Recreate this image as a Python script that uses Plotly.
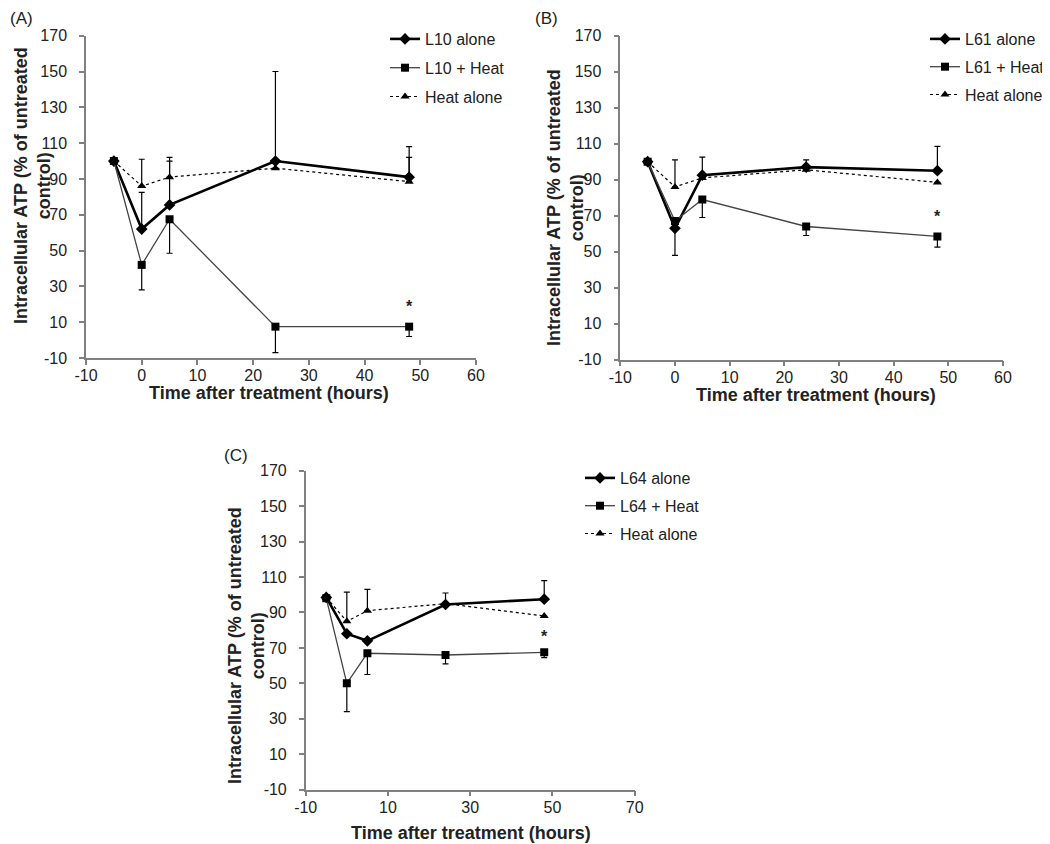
import plotly.graph_objects as go

# ---------------- data ----------------
time_h = [-5, 0, 5, 24, 48]

# Panel A
a_l10_alone = [100, 62, 75.5, 100, 91]
a_l10_alone_up = [0, 20.5, 24.5, 50, 17]
a_l10_heat = [100, 42, 67.5, 7.5, 7.5]
a_l10_heat_dn = [0, 14, 19, 14.5, 5.5]
a_heat = [100, 86, 91, 96, 88.5]
a_heat_up = [0, 15, 11, 0, 13.5]

# Panel B
b_l61_alone = [100, 63, 92.5, 97, 95]
b_l61_alone_up = [0, 0, 0, 4, 13.5]
b_l61_alone_dn = [0, 15, 0, 0, 0]
b_l61_heat = [100, 67, 79, 64, 58.5]
b_l61_heat_dn = [0, 0, 10, 5, 6]
b_heat = [100, 86, 91, 95.5, 88.5]
b_heat_up = [0, 15, 11.5, 0, 0]

# Panel C
c_l64_alone = [98.5, 78, 74, 94.5, 97.5]
c_l64_alone_up = [0, 0, 0, 6.5, 10.5]
c_l64_heat = [98, 50, 67, 66, 67.5]
c_l64_heat_dn = [0, 16, 12, 5, 3]
c_heat = [98.5, 85, 91, 95, 88]
c_heat_up = [0, 16.5, 12, 0, 0]

star_y = {"A": 18.5, "B": 69.5, "C": 76.5}

# tick labels
y_ticks = [-10, 10, 30, 50, 70, 90, 110, 130, 150, 170]
y_ticktext = ["-10", "10", "30", "50", "70", "90", "110", "130", "150", "170"]
x_ticks_ab = [-10, 0, 10, 20, 30, 40, 50, 60]
x_ticktext_ab = ["-10", "0", "10", "20", "30", "40", "50", "60"]
x_ticks_c = [-10, 10, 30, 50, 70]
x_ticktext_c = ["-10", "10", "30", "50", "70"]

W, H = 1050, 844
FONT = "Liberation Sans, Arial, sans-serif"
TXT = "#222222"
AXC = "#808080"


def px(x):
    return x / W


def py(y):
    return 1 - y / H


fig = go.Figure()


def add_panel(xa, ya, legend, names, alone, alone_up, alone_dn, heatc, heatc_dn, heat, heat_up):
    zeros = [0] * len(time_h)
    common = dict(x=time_h, xaxis=xa, yaxis=ya, legend=legend, mode="lines+markers")
    fig.add_trace(go.Scatter(
        y=alone, name=names[0], legendgroup=legend + "1",
        line=dict(color="black", width=2.6),
        marker=dict(symbol="diamond", size=9, color="black"),
        error_y=dict(type="data", symmetric=False, array=alone_up, arrayminus=alone_dn,
                     color="black", thickness=1.2, width=3),
        **common))
    fig.add_trace(go.Scatter(
        y=heatc, name=names[1], legendgroup=legend + "2",
        line=dict(color="#444444", width=1.3),
        marker=dict(symbol="square", size=8, color="black"),
        error_y=dict(type="data", symmetric=False, array=zeros, arrayminus=heatc_dn,
                     color="black", thickness=1.2, width=3),
        **common))
    fig.add_trace(go.Scatter(
        y=heat, name=names[2], legendgroup=legend + "3",
        line=dict(color="black", width=1.2, dash="dot"),
        marker=dict(symbol="triangle-up", size=8, color="black"),
        error_y=dict(type="data", symmetric=False, array=heat_up, arrayminus=zeros,
                     color="black", thickness=1.2, width=3),
        **common))


add_panel("x", "y", "legend", ["L10 alone", "L10 + Heat", "Heat alone"],
          a_l10_alone, a_l10_alone_up, [0] * 5, a_l10_heat, a_l10_heat_dn, a_heat, a_heat_up)
add_panel("x2", "y2", "legend2", ["L61 alone", "L61 + Heat", "Heat alone"],
          b_l61_alone, b_l61_alone_up, b_l61_alone_dn, b_l61_heat, b_l61_heat_dn, b_heat, b_heat_up)
add_panel("x3", "y3", "legend3", ["L64 alone", "L64 + Heat", "Heat alone"],
          c_l64_alone, c_l64_alone_up, [0] * 5, c_l64_heat, c_l64_heat_dn, c_heat, c_heat_up)

axis_common = dict(showline=True, linecolor=AXC, linewidth=1.5, showgrid=False, zeroline=False,
                   ticks="outside", ticklen=5, tickcolor=AXC, tickwidth=1.5, automargin=False,
                   tickfont=dict(family=FONT, size=16, color=TXT))
xax = dict(ticklabelstandoff=-3, **axis_common)
yax = dict(ticklabelstandoff=9, tickmode="array", tickvals=y_ticks, ticktext=y_ticktext,
           range=[-10, 170], **axis_common)

# domains from pixel positions
dom = {
    "A": ([px(78), px(468)], [py(350), py(27.7)]),
    "B": ([px(612.3), px(995)], [py(351.7), py(27.7)]),
    "C": ([px(297.7), px(626.7)], [py(781.7), py(462.7)]),
}

fig.update_layout(
    xaxis=dict(domain=dom["A"][0], anchor="y", range=[-10, 60], tickmode="array",
               tickvals=x_ticks_ab, ticktext=x_ticktext_ab, **xax),
    yaxis=dict(domain=dom["A"][1], anchor="x", **yax),
    xaxis2=dict(domain=dom["B"][0], anchor="y2", range=[-10, 60], tickmode="array",
                tickvals=x_ticks_ab, ticktext=x_ticktext_ab, **xax),
    yaxis2=dict(domain=dom["B"][1], anchor="x2", **yax),
    xaxis3=dict(domain=dom["C"][0], anchor="y3", range=[-10, 70], tickmode="array",
                tickvals=x_ticks_c, ticktext=x_ticktext_c, **xax),
    yaxis3=dict(domain=dom["C"][1], anchor="x3", **yax),
)

leg_common = dict(font=dict(family=FONT, size=16, color=TXT), bgcolor="rgba(0,0,0,0)",
                  xanchor="left", yanchor="top", traceorder="grouped")
fig.update_layout(
    legend=dict(x=px(377), y=py(14), tracegroupgap=5, **leg_common),
    legend2=dict(x=px(917), y=py(14), tracegroupgap=4, **leg_common),
    legend3=dict(x=px(572), y=py(453), tracegroupgap=4, **leg_common),
)

ann = []
ytitle = "<b>Intracellular ATP (% of untreated<br>control)</b>"
xtitle = "<b>Time after treatment (hours)</b>"
for (xc, yc) in [(24, 178), (557, 200), (238, 638)]:
    ann.append(dict(text=ytitle, x=px(xc), y=py(yc), xref="paper", yref="paper",
                    textangle=-90, showarrow=False, xanchor="center", yanchor="middle",
                    font=dict(family=FONT, size=18, color=TXT)))
for (xc, yc) in [(261, 385), (808, 387), (463, 825)]:
    ann.append(dict(text=xtitle, x=px(xc), y=py(yc), xref="paper", yref="paper",
                    showarrow=False, xanchor="center", yanchor="middle",
                    font=dict(family=FONT, size=18, color=TXT)))
for (lab, xc, yc) in [("(A)", 0, 11), ("(B)", 525, 11), ("(C)", 214, 447)]:
    ann.append(dict(text=lab, x=px(xc), y=py(yc), xref="paper", yref="paper",
                    showarrow=False, xanchor="left", yanchor="middle",
                    font=dict(family=FONT, size=17, color=TXT)))
for (lab, xr, yr) in [("A", "x", "y"), ("B", "x2", "y2"), ("C", "x3", "y3")]:
    ann.append(dict(text="<b>*</b>", x=48, y=star_y[lab], xref=xr, yref=yr,
                    showarrow=False, font=dict(family=FONT, size=16, color=TXT)))

fig.update_layout(
    width=W, height=H, margin=dict(l=0, r=0, t=0, b=0, autoexpand=False),
    paper_bgcolor="white", plot_bgcolor="white",
    annotations=ann, showlegend=True,
)

fig.write_html("out.html")
